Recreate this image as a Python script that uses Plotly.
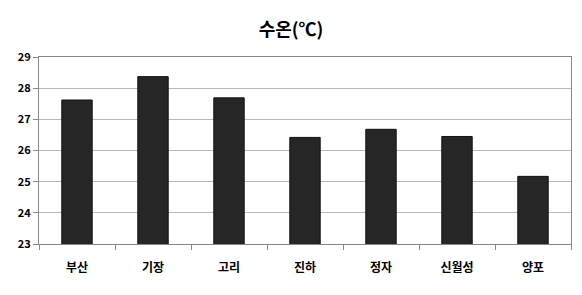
import plotly.graph_objects as go

categories = ["부산", "기장", "고리", "진하", "정자", "신월성", "양포"]
values = [27.62, 28.37, 27.69, 26.42, 26.68, 26.45, 25.17]
y_ticks = [23, 24, 25, 26, 27, 28, 29]

font_family = "Noto Sans CJK KR, Noto Sans, sans-serif"

fig = go.Figure(go.Bar(
    x=categories, y=values,
    marker=dict(color="#262626", line=dict(color="#111111", width=1)),
    width=0.4,
))

fig.update_layout(
    width=582, height=295,
    margin=dict(l=39, r=11, t=57, b=51),
    paper_bgcolor="white", plot_bgcolor="white",
    showlegend=False,
    title=dict(text="<b>수온(℃)</b>", x=0.5, xanchor="center", y=0.9, yanchor="middle",
               font=dict(family=font_family, size=18, color="#000000")),
    xaxis=dict(
        tickson="boundaries", ticks="outside", ticklen=5, tickcolor="#888888",
        showline=True, linecolor="#888888", linewidth=1, mirror=True,
        showgrid=False,
        tickfont=dict(family=font_family, size=12, color="#000000"),
        ticklabelstandoff=13,
    ),
    yaxis=dict(
        range=[23, 29], tickvals=y_ticks, ticktext=[f"<b>{v}</b>" for v in y_ticks],
        ticks="outside", ticklen=5, tickcolor="#888888",
        showline=True, linecolor="#888888", linewidth=1, mirror=True,
        showgrid=True, gridcolor="#b8b8b8", gridwidth=1,
        tickfont=dict(family=font_family, size=11, color="#000000"),
        zeroline=False,
    ),
)
fig.update_xaxes(ticktext=[f"<b>{c}</b>" for c in categories], tickvals=categories)

fig.write_html("out.html")
